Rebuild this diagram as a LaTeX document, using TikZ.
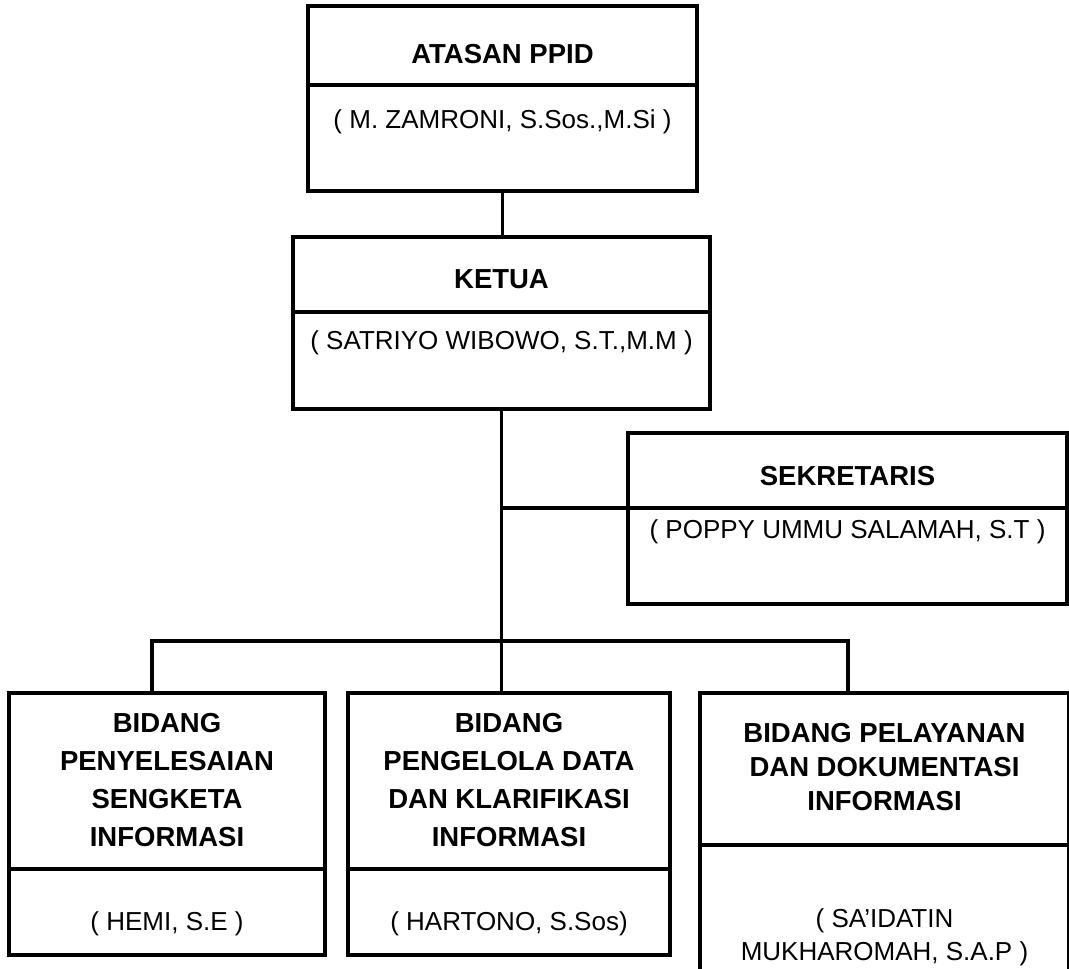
\documentclass[tikz,border=0pt]{standalone}
\usepackage{fontspec}
\setmainfont{Liberation Sans}
\begin{document}
\begin{tikzpicture}[x=1pt,y=-1pt,
  box/.style={draw=black, line width=3.4pt, rectangle, inner sep=0pt, outer sep=0pt, anchor=north west},
  link/.style={draw=black, line width=3.2pt},
  ttl/.style={font=\fontsize{27.5}{37.7}\selectfont\bfseries, align=center, inner sep=0pt, anchor=base},
  ttlc/.style={font=\fontsize{27.5}{34}\selectfont\bfseries, align=center, inner sep=0pt, anchor=base},
  nm/.style={font=\fontsize{26}{33}\selectfont, align=center, inner sep=0pt, anchor=base}]
\fill[white] (0,0) rectangle (1069,969);
\useasboundingbox (0,0) rectangle (1069,969);
\clip (0,0) rectangle (1069,969);

% boxes
\node[box, minimum width=389pt, minimum height=185pt] (atasan) at (308,6) {};
\node[box, minimum width=417pt, minimum height=172pt] (ketua) at (293,237) {};
\node[box, minimum width=439pt, minimum height=171pt] (sek) at (628,433) {};
\node[box, minimum width=316pt, minimum height=262pt] (bidA) at (9,693) {};
\node[box, minimum width=322pt, minimum height=262pt] (bidB) at (348,693) {};
\node[box, minimum width=369pt, minimum height=330pt] (bidC) at (700,693) {};

% dividers
\draw[link] (atasan.west |- 0,85) -- (atasan.east |- 0,85);
\draw[link] (ketua.west |- 0,312) -- (ketua.east |- 0,312);
\draw[link] (sek.west |- 0,508) -- (sek.east |- 0,508);
\draw[link] (bidA.west |- 0,869) -- (bidA.east |- 0,869);
\draw[link] (bidB.west |- 0,869) -- (bidB.east |- 0,869);
\draw[link] (bidC.west |- 0,845) -- (bidC.east |- 0,845);

% texts (base anchor = baseline of the last line)
\node[ttl] (atasanT) at (502.5,63) {ATASAN PPID};
\node[nm] (atasanN) at (502.5,128) {( M. ZAMRONI, S.Sos.,M.Si )};
\node[ttl] (ketuaT) at (501.5,288) {KETUA};
\node[nm] (ketuaN) at (501.5,349) {( SATRIYO WIBOWO, S.T.,M.M )};
\node[ttl] (sekT) at (847.5,485) {SEKRETARIS};
\node[nm] (sekN) at (847.5,538) {( POPPY UMMU SALAMAH, S.T )};
\node[ttl] (bidAT) at (167,846) {BIDANG\\PENYELESAIAN\\SENGKETA\\INFORMASI};
\node[nm] (bidAN) at (167,930) {( HEMI, S.E )};
\node[ttl] (bidBT) at (509,846) {BIDANG\\PENGELOLA DATA\\DAN KLARIFIKASI\\INFORMASI};
\node[nm] (bidBN) at (509,930) {( HARTONO, S.Sos)};
\node[ttlc] (bidCT) at (884.5,810) {BIDANG PELAYANAN\\DAN DOKUMENTASI\\INFORMASI};
\node[nm] (bidCN) at (884.5,960) {( SA’IDATIN\\MUKHAROMAH, S.A.P )};

% connectors
\coordinate (sekJ) at (628,508);
\coordinate (busL) at (152,641);
\coordinate (busR) at (848,641);
\draw[link] (atasan.south) -- (atasan.south |- ketua.north);
\draw[link] (ketua.south) -- (ketua.south |- bidB.north);
\draw[link] (ketua.south |- sekJ) -- (sekJ);
\draw[link] (busL |- bidA.north) -- (busL) -- (busR) -- (busR |- bidC.north);
\end{tikzpicture}
\end{document}
